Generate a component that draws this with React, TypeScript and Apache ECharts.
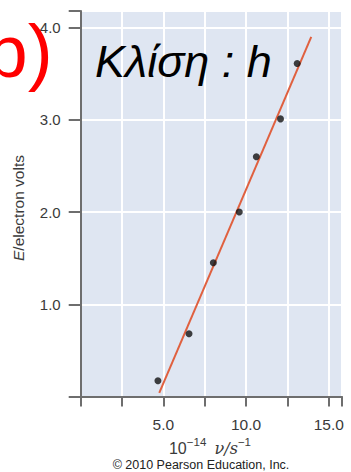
import React, { useEffect, useRef } from "react";
import * as echarts from "echarts";

// Measured data (10^-14 ν / s^-1, E / eV)
const frequencies = [4.67, 6.55, 8.02, 9.59, 10.62, 12.08, 13.09];
const energies = [0.17, 0.68, 1.45, 2.0, 2.6, 3.01, 3.61];
// Fitted straight line end points as drawn in the figure
const fitX = [4.75, 13.94];
const fitY = [0.04, 3.9];
const xTicks = [5.0, 10.0, 15.0];
const yTicks = [1.0, 2.0, 3.0, 4.0];

export default function App() {
  const ref = useRef<HTMLDivElement>(null);
  useEffect(() => {
    if (!ref.current) return;
    const chart = echarts.init(ref.current, undefined, { renderer: "svg" });
    const font = "'Liberation Sans', Arial, Helvetica, sans-serif";
    chart.setOption({
      animation: false,
      grid: {
        left: 80.7,
        top: 11,
        right: 9,
        bottom: 75.5,
        show: true,
        backgroundColor: "#dfe6f2",
        borderWidth: 0,
      },
      xAxis: {
        type: "value",
        min: 0,
        max: 15.8,
        interval: 2.5,
        axisLine: { show: true, onZero: false, lineStyle: { color: "#6e6e6e", width: 2 } },
        axisTick: { show: true, length: 10, lineStyle: { color: "#6e6e6e", width: 2 } },
        axisLabel: {
          margin: 20,
          fontSize: 15.5,
          fontFamily: font,
          color: "#3a3a3a",
          formatter: (v: number) => (xTicks.some((t) => Math.abs(t - v) < 1e-6) ? v.toFixed(1) : ""),
        },
        splitLine: { show: true, lineStyle: { color: "#ffffff", width: 2 } },
      },
      yAxis: {
        type: "value",
        min: 0,
        max: 4.18,
        interval: 1,
        axisLine: { show: true, onZero: false, lineStyle: { color: "#6e6e6e", width: 2 } },
        axisTick: { show: true, length: 12, lineStyle: { color: "#6e6e6e", width: 2 } },
        axisLabel: {
          margin: 20,
          fontSize: 15,
          fontFamily: font,
          color: "#3a3a3a",
          formatter: (v: number) => (yTicks.some((t) => Math.abs(t - v) < 1e-6) ? v.toFixed(1) : ""),
        },
        splitLine: { show: true, lineStyle: { color: "#ffffff", width: 2 } },
      },
      series: [
        {
          type: "line",
          data: fitX.map((x, i) => [x, fitY[i]]),
          showSymbol: false,
          lineStyle: { color: "#e0603f", width: 2 },
          z: 2,
        },
        {
          type: "scatter",
          data: frequencies.map((x, i) => [x, energies[i]]),
          symbolSize: 7,
          itemStyle: { color: "#111111" },
          z: 3,
        },
      ],
      graphic: [
        {
          type: "text",
          x: -14,
          y: 51,
          style: {
            text: "b)",
            fill: "#ff0000",
            font: `75px ${font}`,
            textAlign: "left",
            textVerticalAlign: "middle",
          },
          z: 10,
        },
        {
          type: "text",
          x: 95,
          y: 61,
          style: {
            text: "Κλίση : h",
            fill: "#000000",
            font: `italic 45px ${font}`,
            textAlign: "left",
            textVerticalAlign: "middle",
          },
          z: 10,
        },
        {
          type: "text",
          x: 18,
          y: 208,
          rotation: Math.PI / 2,
          style: {
            text: "{i|E}{n|/electron volts}",
            textAlign: "center",
            textVerticalAlign: "middle",
            rich: {
              i: { fontSize: 15.5, fontStyle: "italic", fontFamily: font, fill: "#3a3a3a" },
              n: { fontSize: 15.5, fontFamily: font, fill: "#3a3a3a" },
            },
          },
        },
        {
          type: "text",
          x: 210,
          y: 446,
          style: {
            text: "{n|10}{s|−14}{g|  }{i|ν/s}{s|−1}",
            textAlign: "center",
            textVerticalAlign: "middle",
            rich: {
              n: { fontSize: 16, fontFamily: font, fill: "#3a3a3a", verticalAlign: "bottom" },
              g: { fontSize: 15, fontFamily: font, fill: "#3a3a3a", verticalAlign: "bottom" },
              i: { fontSize: 16, fontStyle: "italic", fontFamily: "'DejaVu Serif', serif", fill: "#3a3a3a", verticalAlign: "bottom" },
              s: { fontSize: 11.5, fontFamily: font, fill: "#3a3a3a", verticalAlign: "top", padding: [0, 0, 8, 0] },
            },
          },
        },
        {
          type: "text",
          x: 201,
          y: 465,
          style: {
            text: "© 2010 Pearson Education, Inc.",
            fill: "#222222",
            font: `12.5px ${font}`,
            textAlign: "center",
            textVerticalAlign: "middle",
          },
        },
      ],
    });
    return () => chart.dispose();
  }, []);
  return (
    <div
      ref={ref}
      style={{ position: "absolute", left: 0, top: 0, width: 351, height: 472, background: "#ffffff" }}
    />
  );
}
